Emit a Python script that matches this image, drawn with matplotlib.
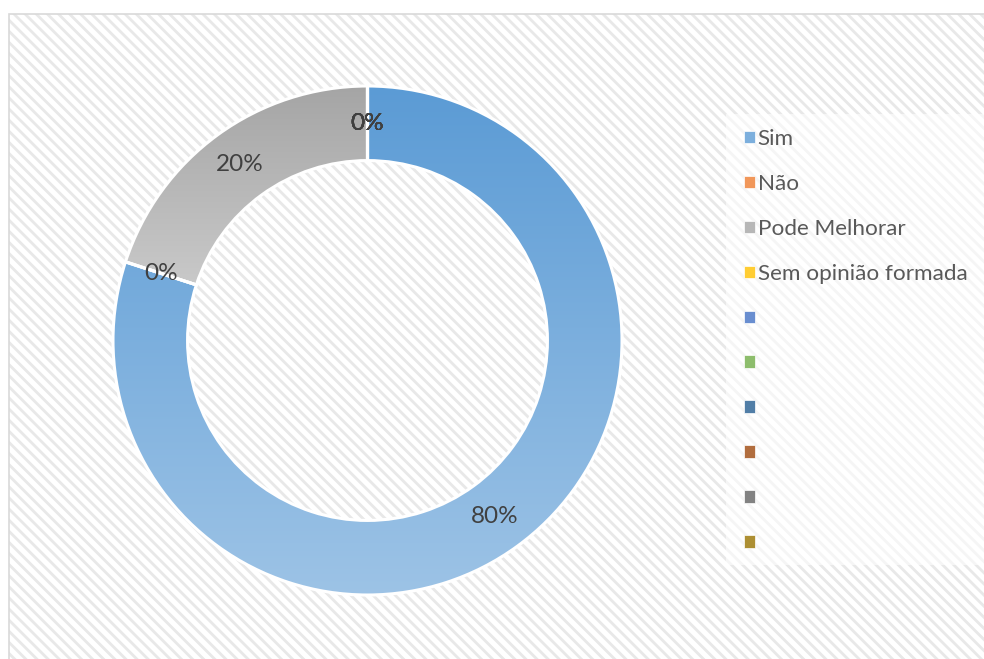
import numpy as np
import matplotlib.pyplot as plt
from matplotlib.patches import Rectangle, Patch
from matplotlib.colors import to_rgb

plt.rcParams['font.family'] = ['Lato', 'DejaVu Sans']
plt.rcParams['hatch.linewidth'] = 2.0

# data
categories = ['Sim', 'Não', 'Pode Melhorar', 'Sem opinião formada', '', '', '', '', '', '']
values = [80, 0, 20, 0, 0, 0, 0, 0, 0, 0]
colors = ['#5B9BD5', '#ED7D31', '#A5A5A5', '#FFC000', '#4472C4',
          '#70AD47', '#255E91', '#9E480E', '#636363', '#997300']


def lighten(c, t):
    r = np.array(to_rgb(c))
    return tuple(r + (1 - r) * t)


W, H = 984, 659
fig = plt.figure(figsize=(W / 100, H / 100), dpi=100)
fig.patch.set_facecolor('white')

# hatched chart area + border
bg = Rectangle((9 / W, -0.05), 1.1, (H - 14) / H + 0.05, transform=fig.transFigure,
               facecolor='white', edgecolor='#e8e8e8', hatch='\\\\\\', linewidth=0, zorder=0)
fig.add_artist(bg)
border = Rectangle((9 / W, -0.05), 1.1, (H - 14) / H + 0.05, transform=fig.transFigure,
                   facecolor='none', edgecolor='#d9d9d9', linewidth=1.2, zorder=1)
fig.add_artist(border)

# legend area
fig.add_artist(Rectangle((726 / W, 1 - 565 / H), (W - 726) / W + 0.05, (565 - 114) / H,
                         transform=fig.transFigure, facecolor='white', alpha=0.6,
                         linewidth=0, zorder=1))

cx, cy, R = 367.5, 340.5, 254.5
ax = fig.add_axes([(cx - R) / W, (H - cy - R) / H, 2 * R / W, 2 * R / H])
ax.patch.set_alpha(0)

wedges, texts, autotexts = ax.pie(
    values, startangle=90, counterclock=False, radius=1,
    colors=['none'] * len(values),
    wedgeprops=dict(width=0.293, edgecolor='white', linewidth=2.2),
    autopct=lambda p: f'{p:.0f}%', pctdistance=0.853,
    textprops=dict(color='#404040', fontsize=17.5))

for w, c in zip(wedges, colors):
    w.set_zorder(3)
    if w.theta2 - w.theta1 <= 0:
        continue
    bb = w.get_path().get_extents()
    top = np.array(to_rgb(c))
    bot = np.array(lighten(c, 0.4))
    t = np.linspace(0, 1, 256)[:, None]
    grad = (top[None, :] * (1 - t) + bot[None, :] * t)[:, None, :]
    im = ax.imshow(grad, extent=[bb.x0, bb.x1, bb.y0, bb.y1], origin='upper',
                   aspect='auto', zorder=2, interpolation='bilinear')
    im.set_clip_path(w)
for t in autotexts:
    t.set_zorder(5)
ax.set_xlim(-1, 1)
ax.set_ylim(-1, 1)

handles = [Patch(facecolor=lighten(c, 0.2), edgecolor='white', linewidth=0.5) for c in colors]
fig.legend(handles, categories, loc='upper left', bbox_to_anchor=(744 / W, 1 - 129 / H),
           frameon=False, fontsize=16.2, labelcolor='#595959',
           handlelength=0.5, handleheight=0.5, handletextpad=0.1,
           labelspacing=1.11, borderaxespad=0, borderpad=0)

fig.savefig('out.png', dpi=100, facecolor='white')
